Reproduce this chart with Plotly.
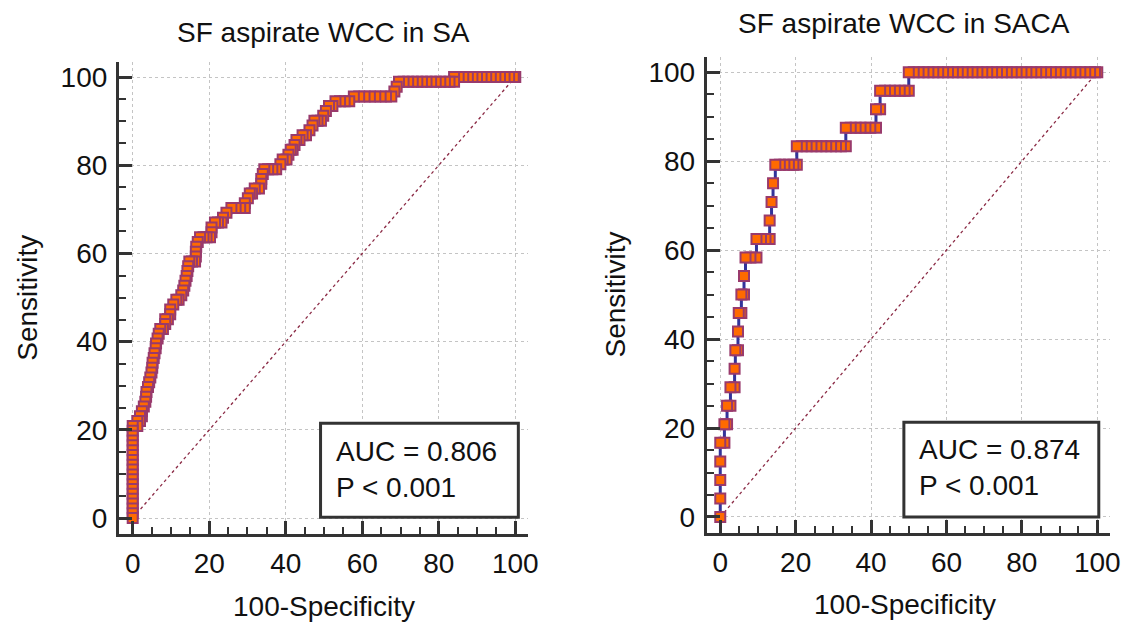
import plotly.graph_objects as go

# ---------------- data ----------------
# SA: sensitivity levels and the 100-specificity values of the points on each level
SA_SENS = [0, 1.1, 2.2, 3.3, 4.4, 5.5, 6.6, 7.7, 8.8, 9.9, 11.0, 12.1, 13.2, 14.3, 15.4,
           16.5, 17.6, 18.7, 19.8, 20.9, 22.0, 23.1, 24.2, 25.3, 26.4, 27.5, 28.6, 29.7,
           30.8, 31.9, 33.0, 34.1, 35.2, 36.3, 37.4, 38.5, 39.6, 40.7, 41.8, 42.9, 44.0,
           45.1, 46.2, 47.3, 48.4, 49.5, 50.5, 51.6, 52.7, 53.8, 54.9, 56.0, 57.1, 58.2,
           59.3, 60.4, 61.5, 62.6, 63.7, 64.8, 65.9, 67.0, 68.1, 69.2, 70.3, 71.4, 72.5,
           73.6, 74.7, 75.8, 76.9, 78.0, 79.1, 80.2, 81.3, 82.4, 83.5, 84.6, 85.7, 86.8,
           87.9, 89.0, 90.1, 91.2, 92.3, 93.4, 94.5, 95.6, 96.7, 97.8, 98.9, 100]
SA_FPR_RUNS = [[0]] * 19 + [
    [0, 1.2], [1.2, 1.9], [1.9, 2.4], [2.4], [2.9], [3.3], [3.5], [3.6], [4.0], [4.3],
    [4.6], [4.9], [5.1], [5.2], [5.5], [5.7], [6.0], [6.1], [6.5], [6.8], [7.2, 7.9],
    [8.5], [8.5, 9.2], [9.8], [9.8], [10.6], [11.4, 12.0], [12.7], [13.2], [13.5],
    [13.8], [14.1], [14.3], [14.5], [14.8, 15.5, 16.3], [16.5], [16.5], [16.6], [17.0],
    [17.6, 18.5, 19.3, 20.2], [20.6], [20.6], [21.5, 22.3, 23.2], [23.6], [24.5],
    [25.8, 26.9, 28.1, 29.3], [29.3], [30.1], [30.6, 31.2], [31.9, 33.0], [33.6],
    [33.6], [34.0], [34.4, 35.4, 36.5, 37.5], [38.6], [39.2, 40.2], [40.7], [41.3, 41.8],
    [42.3], [42.8, 43.6], [44.4, 45.3], [46.2], [47.0], [47.5, 48.3, 49.2], [49.8],
    [50.5], [51.3, 52.2], [53.0, 54.2, 55.4, 56.6],
    [57.8, 59.2, 60.6, 62.0, 63.4, 64.8, 66.2, 67.6], [68.4], [69.0],
    [69.6, 70.8, 72.0, 73.2, 74.4, 75.6, 76.8, 78.0, 79.2, 80.4, 81.6, 82.8, 84.0],
    [84.0, 85.2, 86.4, 87.6, 88.8, 90.0, 91.2, 92.4, 93.6, 94.8, 96.0, 97.2, 98.4, 99.6, 100],
]

# SACA
SACA_SENS = [0, 4.17, 8.33, 12.5, 16.67, 20.83, 25, 29.17, 33.33, 37.5, 41.67, 45.83, 50,
             54.17, 58.33, 62.5, 66.67, 70.83, 75, 79.17, 83.33, 87.5, 91.67, 95.83, 100]
SACA_FPR_RUNS = [
    [0], [0], [0], [0], [0, 1.1], [1.1, 1.8], [1.8, 2.7], [2.7, 3.8], [3.8], [4.0, 4.7],
    [4.7], [4.9, 5.6], [5.6, 6.3], [6.3], [6.7, 8.0, 9.6], [9.6, 10.8, 12.0, 13.1],
    [13.1], [13.6], [14.0], [14.6, 15.8, 17.0, 18.2, 19.4, 20.3],
    [20.3, 21.6, 22.9, 24.2, 25.5, 26.8, 28.1, 29.4, 30.7, 32.0, 33.3],
    [33.3, 34.6, 35.9, 37.2, 38.5, 39.8, 41.3], [41.3, 42.4],
    [42.4, 43.7, 45.0, 46.3, 47.6, 48.9, 50.0],
    [50.0, 51.3, 52.6, 53.9, 55.2, 56.5, 57.8, 59.1, 60.4, 61.7, 63.0, 64.3, 65.6, 66.9,
     68.2, 69.5, 70.8, 72.1, 73.4, 74.7, 76.0, 77.3, 78.6, 79.9, 81.2, 82.5, 83.8, 85.1,
     86.4, 87.7, 89.0, 90.3, 91.6, 92.9, 94.2, 95.5, 96.8, 98.1, 99.4, 100],
]

TITLES = ["SF aspirate WCC in SA", "SF aspirate WCC in SACA"]
AUC_TEXT = ["AUC = 0.806<br>P < 0.001", "AUC = 0.874<br>P < 0.001"]
TICKS = [0, 20, 40, 60, 80, 100]
X_TITLE = "100-Specificity"
Y_TITLE = "Sensitivity"


def flatten(levels, runs):
    xs, ys = [], []
    for s, run in zip(levels, runs):
        for f in run:
            xs.append(f)
            ys.append(s)
    # draw from top-right to bottom-left so lower-left markers sit on top
    return xs[::-1], ys[::-1]


W, H = 1131, 625


def px(x):
    return x / W


def py(y):
    return 1 - y / H


FONT = "Liberation Sans, Arial, sans-serif"
AX = "#333333"
FS = 28

fig = go.Figure()

panels = [
    dict(data=flatten(SA_SENS, SA_FPR_RUNS), xpx=(120, 533), ypx=(62, 534),
         title_xy=(326.5, 32), xt_xy=(327, 606), yt_xy=(27, 298),
         box=(49.1, 0.2, 100.8, 21.5), txt=(52.7, 11.0)),
    dict(data=flatten(SACA_SENS, SACA_FPR_RUNS), xpx=(713, 1120), ypx=(57, 533),
         title_xy=(912.5, 24), xt_xy=(913, 604), yt_xy=(620, 295),
         box=(48.7, 0.0, 100.4, 21.3), txt=(52.2, 11.2)),
]

PURPLE = "#993a6c"
ORANGE = "#ff6a00"
BLUE = "#33339a"
DIAG = "#8b2a45"

for i, p in enumerate(panels):
    n = "" if i == 0 else str(i + 1)
    xa, ya = "x" + n, "y" + n
    fig.add_trace(go.Scatter(x=[0, 100], y=[0, 100], mode="lines", xaxis=xa, yaxis=ya,
                             line=dict(color=DIAG, width=1.3, dash="dot"),
                             showlegend=False, hoverinfo="skip"))
    xs, ys = p["data"]
    fig.add_trace(go.Scatter(x=xs, y=ys, mode="lines+markers", xaxis=xa, yaxis=ya,
                             line=dict(color=BLUE, width=3, shape="vh"),
                             marker=dict(symbol="square", size=10, color=ORANGE,
                                         line=dict(color=PURPLE, width=2)),
                             showlegend=False))
    axis_common = dict(range=[-3.6, 103.4], tickvals=TICKS, showline=True, linecolor=AX,
                       linewidth=3, ticks="inside", ticklen=13, tickwidth=2.5,
                       tickcolor=AX, showgrid=True, gridcolor="#c4c4c4", griddash="dot",
                       gridwidth=1, zeroline=False, fixedrange=True,
                       tickfont=dict(family=FONT, size=FS, color="#111"),
                       minor=dict(dtick=5, ticks="inside", ticklen=7, tickwidth=2,
                                  tickcolor=AX, showgrid=False))
    x0, x1 = p["xpx"]
    y0, y1 = p["ypx"]
    fig.layout["xaxis" + n] = dict(axis_common, domain=[px(x0), px(x1)], anchor=ya,
                                    ticklabelstandoff=2)
    fig.layout["yaxis" + n] = dict(axis_common, domain=[py(y1), py(y0)], anchor=xa,
                                    ticklabelstandoff=3)
    bx0, by0, bx1, by1 = p["box"]
    fig.add_shape(type="rect", xref=xa, yref=ya, x0=bx0, y0=by0, x1=bx1, y1=by1,
                  line=dict(color=AX, width=3), fillcolor="white", layer="above")
    fig.add_annotation(xref=xa, yref=ya, x=p["txt"][0], y=p["txt"][1], text=AUC_TEXT[i],
                       showarrow=False, xanchor="left", yanchor="middle", align="left",
                       font=dict(family=FONT, size=FS, color="#111"))
    fig.add_annotation(xref="paper", yref="paper", x=px(p["title_xy"][0]),
                       y=py(p["title_xy"][1]), text=TITLES[i], showarrow=False,
                       xanchor="center", yanchor="middle",
                       font=dict(family=FONT, size=FS, color="#111"))
    fig.add_annotation(xref="paper", yref="paper", x=px(p["xt_xy"][0]),
                       y=py(p["xt_xy"][1]), text=X_TITLE, showarrow=False,
                       xanchor="center", yanchor="middle",
                       font=dict(family=FONT, size=FS, color="#111"))
    fig.add_annotation(xref="paper", yref="paper", x=px(p["yt_xy"][0]),
                       y=py(p["yt_xy"][1]), text=Y_TITLE, showarrow=False,
                       textangle=-90, xanchor="center", yanchor="middle",
                       font=dict(family=FONT, size=FS, color="#111"))

fig.update_layout(width=W, height=H, margin=dict(l=0, r=0, t=0, b=0),
                  plot_bgcolor="white", paper_bgcolor="white", showlegend=False)

# remove the browser's default 8px page margin so the figure fills the window exactly
fig.write_html("out.html", config={"displayModeBar": False},
               post_script="document.body.style.margin='0px';"
                           "document.body.style.overflow='hidden';")
